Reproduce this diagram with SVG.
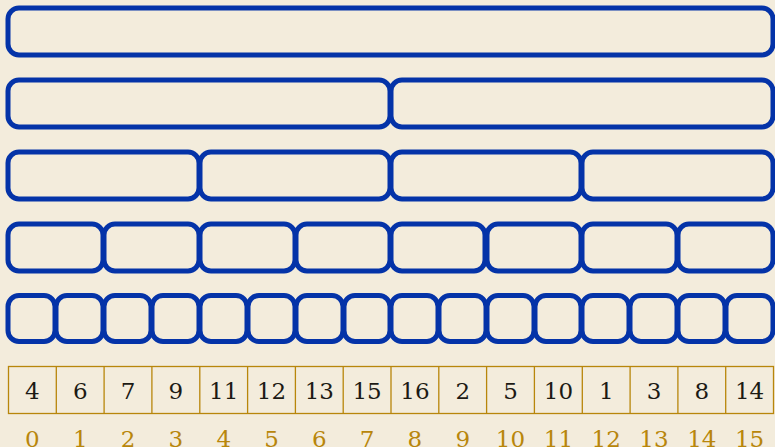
<svg xmlns="http://www.w3.org/2000/svg" width="775" height="447" viewBox="0 0 775 447">
<style>
.b{fill:none;stroke:#0433A8;stroke-width:5}
.c{fill:none;stroke:#B8860B;stroke-width:1.3}
.v{font-family:"DejaVu Serif",serif;font-size:23px;fill:#1c1a14;text-anchor:middle}
.i{font-family:"DejaVu Serif",serif;font-size:23px;fill:#B8860B;text-anchor:middle}
</style>
<rect width="775" height="447" fill="#F3ECDC"/>
<g id="level0">
<rect class="b" x="8" y="8" width="765" height="47" rx="11"/>
</g>
<g id="level1">
<rect class="b" x="8" y="80" width="382" height="47" rx="11"/>
<rect class="b" x="391" y="80" width="382" height="47" rx="11"/>
</g>
<g id="level2">
<rect class="b" x="8" y="152" width="191" height="47" rx="11"/>
<rect class="b" x="200" y="152" width="190" height="47" rx="11"/>
<rect class="b" x="391" y="152" width="190" height="47" rx="11"/>
<rect class="b" x="582" y="152" width="191" height="47" rx="11"/>
</g>
<g id="level3">
<rect class="b" x="8" y="224" width="95" height="47" rx="11"/>
<rect class="b" x="104" y="224" width="95" height="47" rx="11"/>
<rect class="b" x="200" y="224" width="95" height="47" rx="11"/>
<rect class="b" x="296" y="224" width="94" height="47" rx="11"/>
<rect class="b" x="391" y="224" width="94" height="47" rx="11"/>
<rect class="b" x="487" y="224" width="94" height="47" rx="11"/>
<rect class="b" x="582" y="224" width="95" height="47" rx="11"/>
<rect class="b" x="678" y="224" width="95" height="47" rx="11"/>
</g>
<g id="level4">
<rect class="b" x="8" y="295.5" width="47" height="46" rx="11"/>
<rect class="b" x="56" y="295.5" width="47" height="46" rx="11"/>
<rect class="b" x="104" y="295.5" width="47" height="46" rx="11"/>
<rect class="b" x="152" y="295.5" width="47" height="46" rx="11"/>
<rect class="b" x="200" y="295.5" width="47" height="46" rx="11"/>
<rect class="b" x="248" y="295.5" width="47" height="46" rx="11"/>
<rect class="b" x="296" y="295.5" width="47" height="46" rx="11"/>
<rect class="b" x="344" y="295.5" width="46" height="46" rx="11"/>
<rect class="b" x="391" y="295.5" width="47" height="46" rx="11"/>
<rect class="b" x="439" y="295.5" width="47" height="46" rx="11"/>
<rect class="b" x="487" y="295.5" width="47" height="46" rx="11"/>
<rect class="b" x="535" y="295.5" width="46" height="46" rx="11"/>
<rect class="b" x="582" y="295.5" width="47" height="46" rx="11"/>
<rect class="b" x="630" y="295.5" width="47" height="46" rx="11"/>
<rect class="b" x="678" y="295.5" width="47" height="46" rx="11"/>
<rect class="b" x="726" y="295.5" width="47" height="46" rx="11"/>
</g>
<g id="array">
<rect class="c" x="8.5" y="366.5" width="765" height="47" fill="none"/>
<path class="c" d="M56.3 366.5V413.5M104.1 366.5V413.5M151.9 366.5V413.5M199.8 366.5V413.5M247.6 366.5V413.5M295.4 366.5V413.5M343.2 366.5V413.5M391 366.5V413.5M438.8 366.5V413.5M486.6 366.5V413.5M534.4 366.5V413.5M582.3 366.5V413.5M630.1 366.5V413.5M677.9 366.5V413.5M725.7 366.5V413.5"/>
<g class="v">
<text x="32.4" y="398.5">4</text><text x="80.2" y="398.5">6</text><text x="128" y="398.5">7</text><text x="175.9" y="398.5">9</text>
<text x="223.7" y="398.5">11</text><text x="271.5" y="398.5">12</text><text x="319.3" y="398.5">13</text><text x="367.1" y="398.5">15</text>
<text x="414.9" y="398.5">16</text><text x="462.7" y="398.5">2</text><text x="510.5" y="398.5">5</text><text x="558.4" y="398.5">10</text>
<text x="606.2" y="398.5">1</text><text x="654" y="398.5">3</text><text x="701.8" y="398.5">8</text><text x="749.6" y="398.5">14</text>
</g>
<g class="i">
<text x="32.4" y="447">0</text><text x="80.2" y="447">1</text><text x="128" y="447">2</text><text x="175.9" y="447">3</text>
<text x="223.7" y="447">4</text><text x="271.5" y="447">5</text><text x="319.3" y="447">6</text><text x="367.1" y="447">7</text>
<text x="414.9" y="447">8</text><text x="462.7" y="447">9</text><text x="510.5" y="447">10</text><text x="558.4" y="447">11</text>
<text x="606.2" y="447">12</text><text x="654" y="447">13</text><text x="701.8" y="447">14</text><text x="749.6" y="447">15</text>
</g>
</g>
</svg>
